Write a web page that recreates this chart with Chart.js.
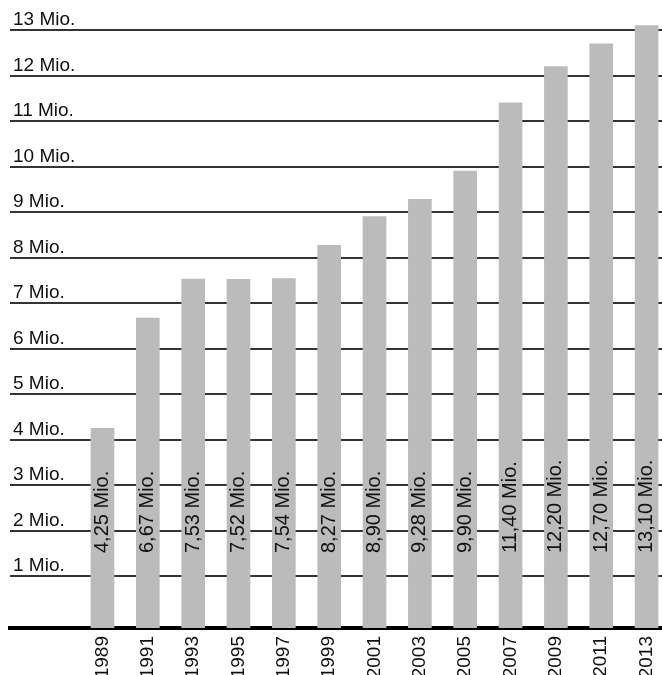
<!DOCTYPE html>
<html>
<head>
<meta charset="utf-8">
<script src="https://cdn.jsdelivr.net/npm/chart.js@4/dist/chart.umd.min.js"></script>
<style>
  html, body { margin: 0; padding: 0; background: #fff; overflow: hidden; }
  #wrap { width: 662px; height: 675px; position: relative; }
</style>
</head>
<body>
<div id="wrap"><canvas id="c" width="662" height="675"></canvas></div>
<script>
// Jahre und Werte (in Millionen)
const years = ['1989', '1991', '1993', '1995', '1997', '1999', '2001', '2003', '2005', '2007', '2009', '2011', '2013'];
const values = [4.25, 6.67, 7.53, 7.52, 7.54, 8.27, 8.90, 9.28, 9.90, 11.40, 12.20, 12.70, 13.10];
const yTicks = [1, 2, 3, 4, 5, 6, 7, 8, 9, 10, 11, 12, 13];

const FONT = '"Liberation Sans", Arial, Helvetica, sans-serif';
const Y_MIN = -0.14;

const fmtValue = v => v.toFixed(2).replace('.', ',') + ' Mio.';

// Wertbeschriftung senkrecht in jedem Balken
const valueLabels = {
  id: 'valueLabels',
  afterDatasetsDraw(chart) {
    const { ctx, chartArea } = chart;
    const meta = chart.getDatasetMeta(0);
    ctx.save();
    ctx.font = '20px ' + FONT;
    ctx.fillStyle = '#111';
    ctx.textAlign = 'left';
    ctx.textBaseline = 'middle';
    meta.data.forEach((bar, i) => {
      ctx.save();
      ctx.translate(bar.x, chartArea.bottom - 75);
      ctx.rotate(-Math.PI / 2);
      ctx.fillText(fmtValue(values[i]), 0, 0);
      ctx.restore();
    });
    ctx.restore();
  }
};

new Chart(document.getElementById('c'), {
  type: 'bar',
  data: {
    datasets: [{
      data: years.map((y, i) => ({ x: Number(y), y: values[i] })),
      backgroundColor: '#bbbbbb',
      borderWidth: 0,
      barThickness: 23,
      base: Y_MIN
    }]
  },
  options: {
    responsive: false,
    animation: false,
    events: [],
    layout: { padding: { left: 10, right: 0, top: 21, bottom: 0 } },
    plugins: { legend: { display: false }, tooltip: { enabled: false } },
    scales: {
      x: {
        type: 'linear',
        position: 'bottom',
        offset: false,
        min: 1984.92,
        max: 2013.68,
        afterBuildTicks: s => { s.ticks = years.map(y => ({ value: Number(y) })); },
        afterFit: s => { s.height = 47; s.paddingLeft = 0; s.paddingRight = 0; },
        grid: { display: false, drawTicks: false },
        border: { display: true, color: '#000', width: 4 },
        ticks: {
          autoSkip: false,
          minRotation: 90,
          maxRotation: 90,
          padding: 8,
          color: '#111',
          font: { family: FONT, size: 19 },
          callback: (v, i) => years[i]
        }
      },
      y: {
        type: 'linear',
        position: 'left',
        min: Y_MIN,
        max: 13.2,
        afterBuildTicks: s => { s.ticks = yTicks.map(v => ({ value: v })); },
        afterFit: s => { s.width = 0; s.paddingTop = 0; s.paddingBottom = 0; },
        grid: { color: '#333', lineWidth: 2, drawTicks: false },
        border: { display: false },
        ticks: {
          mirror: true,
          padding: 3,
          labelOffset: -10,
          color: '#111',
          font: { family: FONT, size: 19 },
          callback: v => v + ' Mio.'
        }
      }
    }
  },
  plugins: [valueLabels]
});
</script>
</body>
</html>
